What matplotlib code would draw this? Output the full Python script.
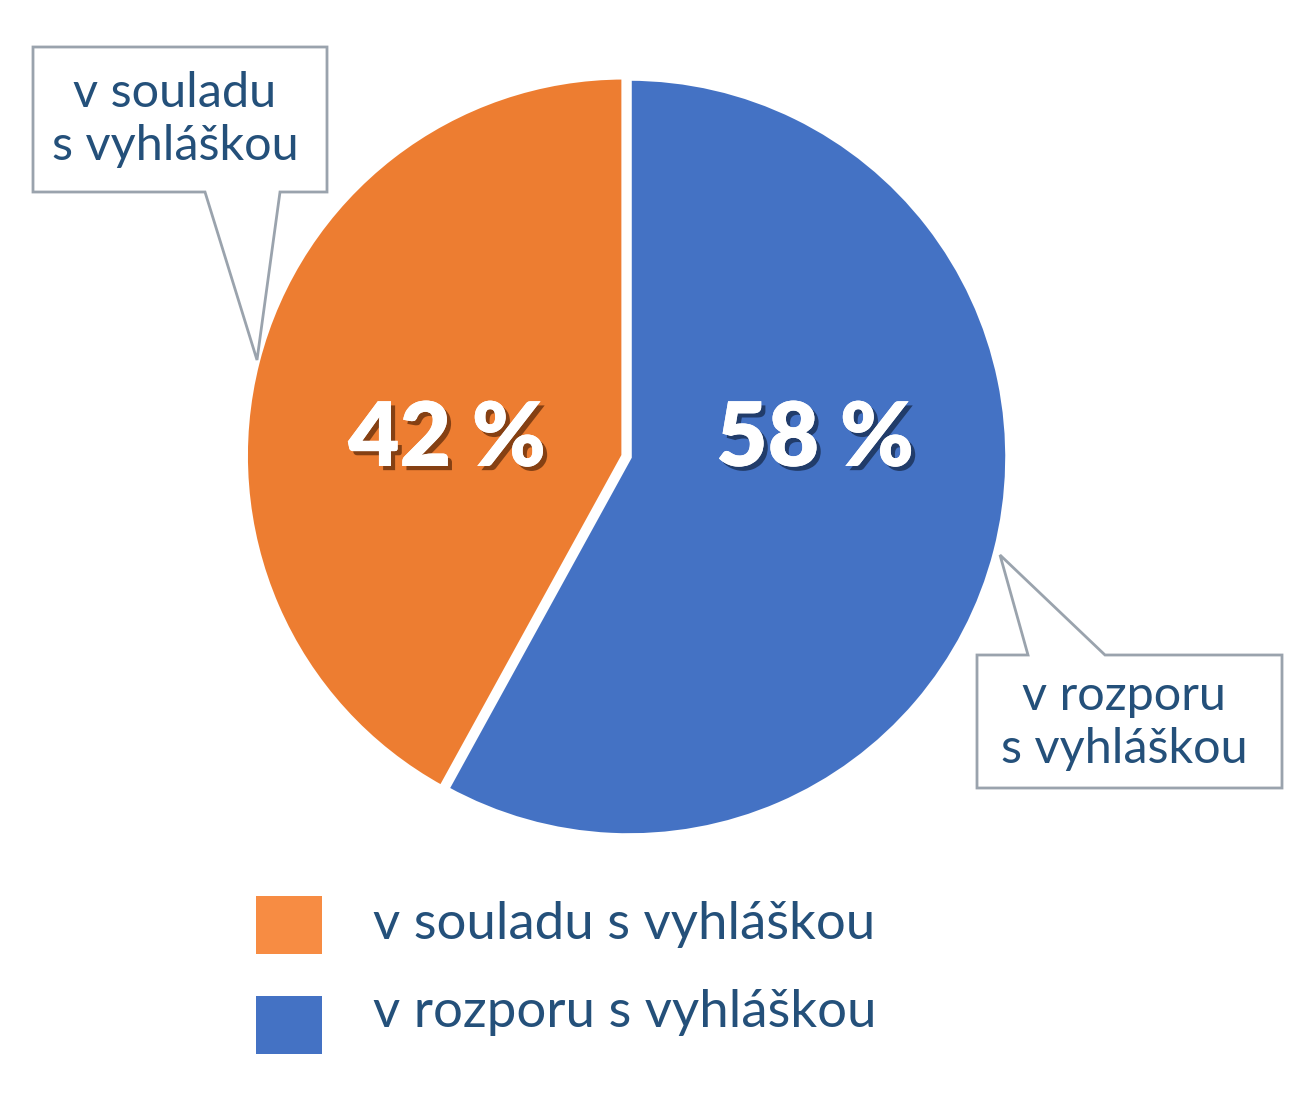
import matplotlib
matplotlib.use("Agg")
import matplotlib.pyplot as plt
from matplotlib.patches import Polygon, Rectangle
import matplotlib.patheffects as pe

categories = ["v souladu s vyhláškou", "v rozporu s vyhláškou"]
callout_lines = [["v souladu", "s vyhláškou"], ["v rozporu", "s vyhláškou"]]
values = [42, 58]
pct_labels = ["42 %", "58 %"]
pie_colors = ["#ED7D31", "#4472C4"]
legend_colors = ["#F78C43", "#4472C4"]
text_color = "#24507A"

W, H = 1306, 1097
fig = plt.figure(figsize=(W / 100, H / 100), dpi=100)
ax = fig.add_axes([0, 0, 1, 1])
ax.set_xlim(0, W)
ax.set_ylim(0, H)
ax.set_aspect("equal")
ax.axis("off")

def Y(y):
    return H - y

cx, cy, r = 629, 457, 379
wedges, _ = ax.pie(values, colors=pie_colors, startangle=90, counterclock=True,
                   center=(cx, Y(cy)), radius=r, explode=[5, 0],
                   wedgeprops=dict(edgecolor="white", linewidth=4))
ax.set_xlim(0, W)
ax.set_ylim(0, H)

# percentage labels
shadow_cols = ["#7A3A10", "#1E3660"]
pct_pos = [(447, 440), (815, 440)]
for lab, (x, y), sc in zip(pct_labels, pct_pos, shadow_cols):
    ax.text(x, Y(y), lab, ha="center", va="center", color="white",
            fontsize=64, fontfamily="Lato", fontweight="heavy",
            path_effects=[pe.withSimplePatchShadow(offset=(3, -3), shadow_rgbFace=sc, alpha=0.9),
                          pe.Normal()])

# callout boxes
edge = "#9AA3AD"
box1 = [(33, 47), (327, 47), (327, 192), (280, 192), (257, 360), (205, 192), (33, 192)]
box2 = [(977, 655), (1028, 655), (1000, 555), (1105, 655), (1282, 655), (1282, 788), (977, 788)]
for pts in (box1, box2):
    ax.add_patch(Polygon([(x, Y(y)) for x, y in pts], closed=True, facecolor="white",
                         edgecolor=edge, linewidth=2, zorder=5))
callout_x = [175, 1124]
callout_baselines = [[107, 160], [710, 763]]
for lines, x, bases in zip(callout_lines, callout_x, callout_baselines):
    for line, b in zip(lines, bases):
        ax.text(x, Y(b), line, ha="center", va="baseline", color=text_color,
                fontsize=35, fontfamily="Lato", zorder=6)

# legend
leg_base = [939, 1027]
sq_top = [896, 996]
for cat, col, b, t in zip(categories, legend_colors, leg_base, sq_top):
    ax.add_patch(Rectangle((256, Y(t + 58)), 66, 58, facecolor=col, edgecolor="none"))
    ax.text(373, Y(b), cat, ha="left", va="baseline", color=text_color,
            fontsize=38, fontfamily="Lato")

fig.savefig("out.png", dpi=100)
